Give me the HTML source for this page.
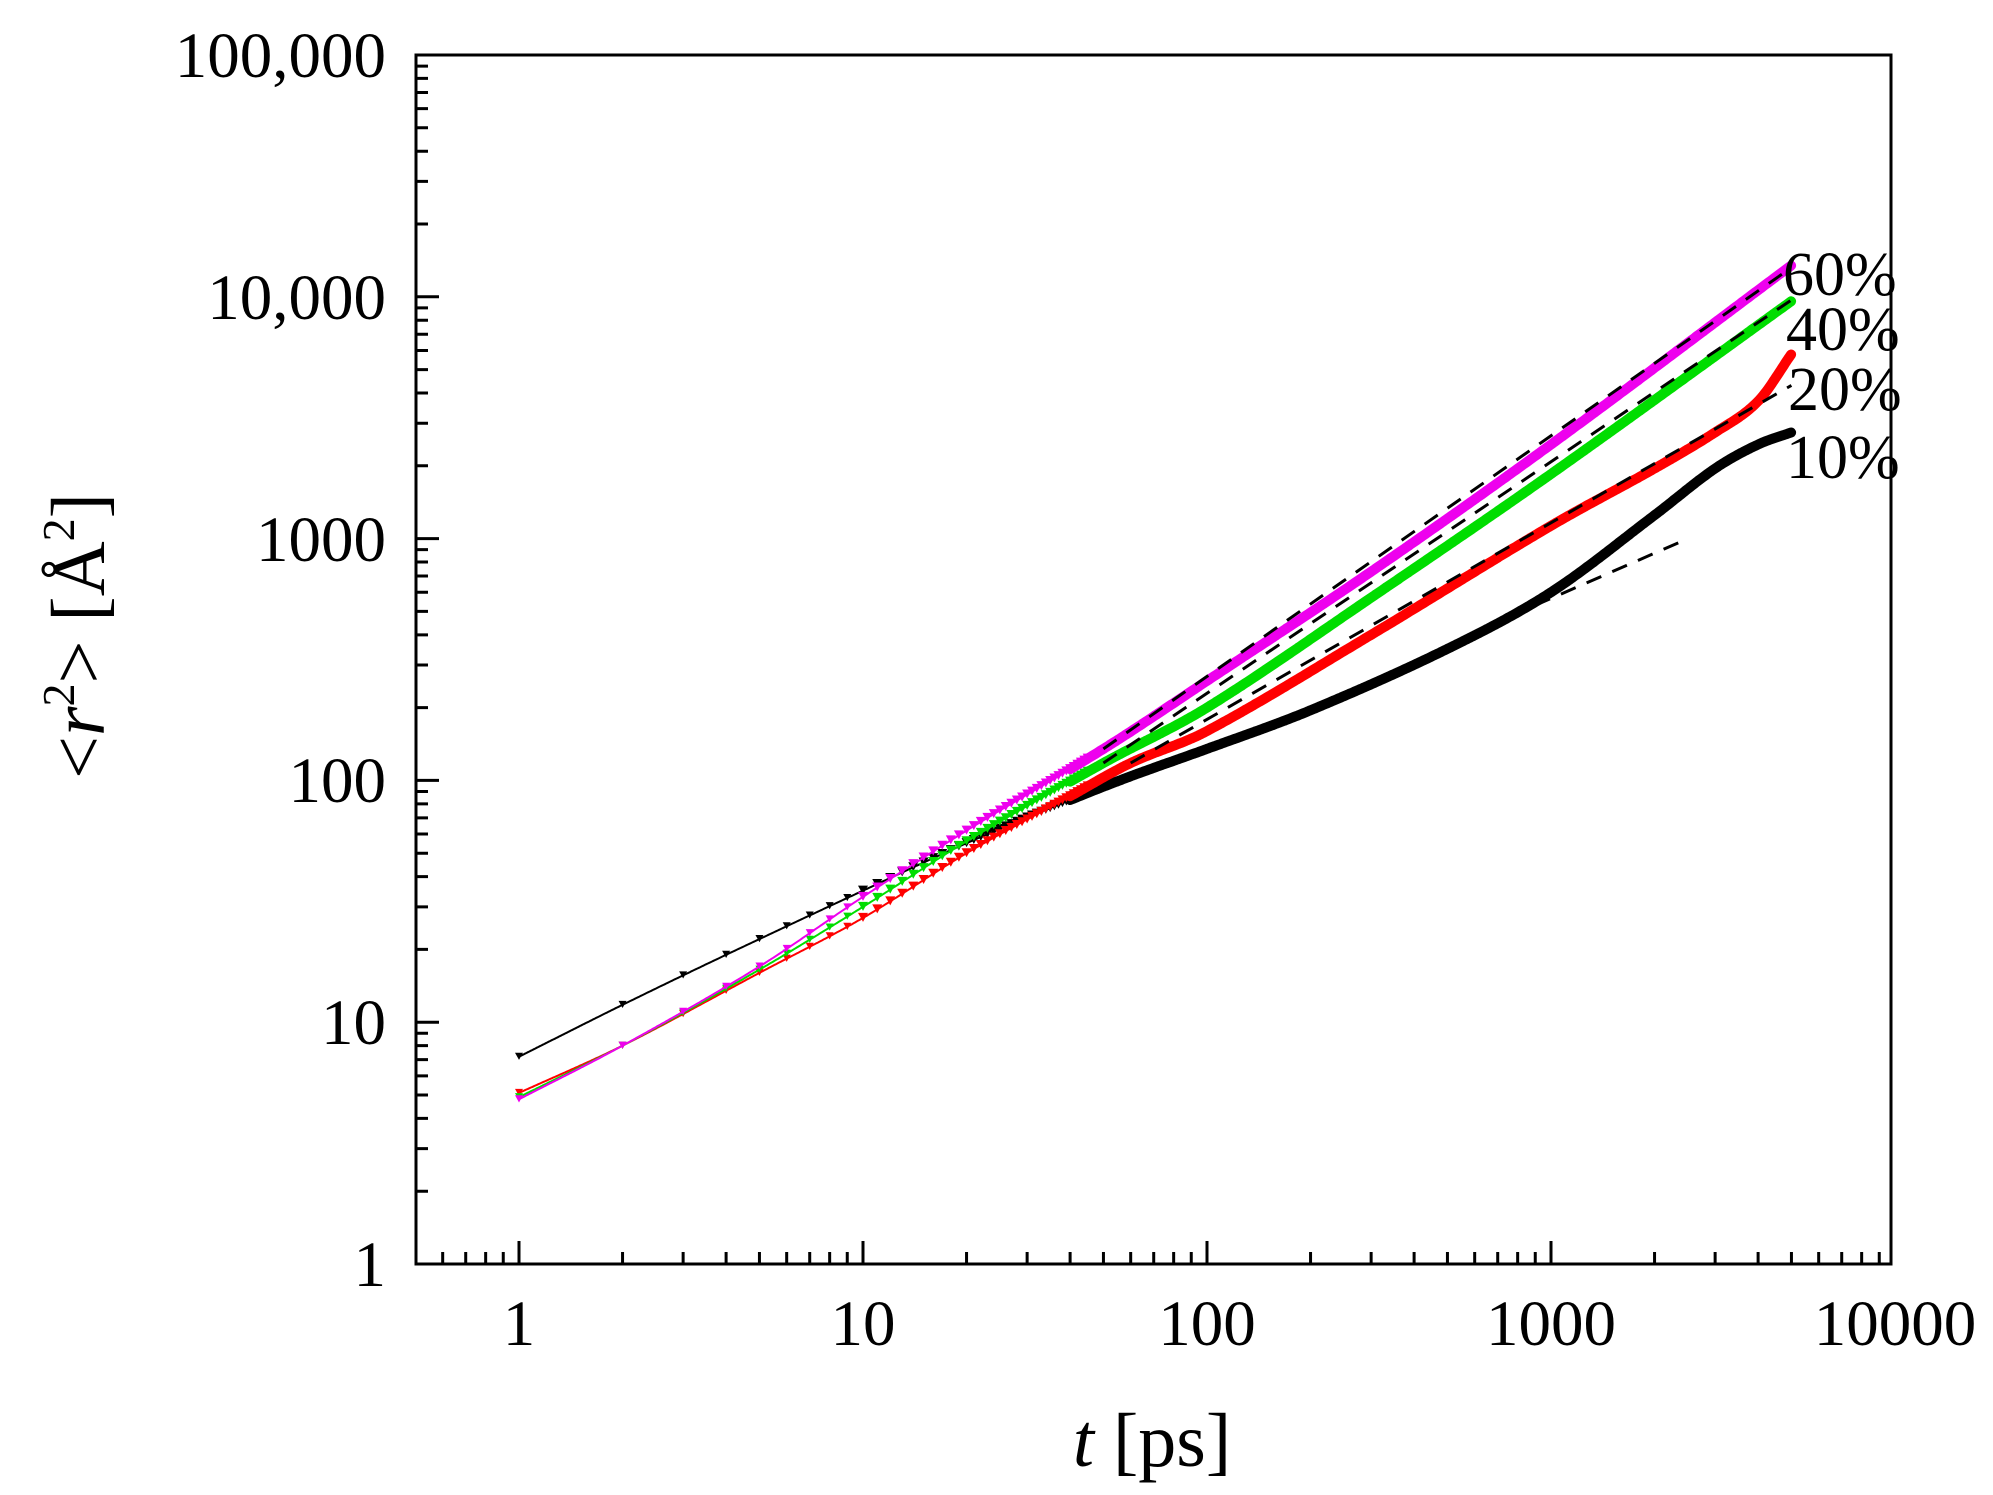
<!DOCTYPE html>
<html><head><meta charset="utf-8"><style>
html,body{margin:0;padding:0;background:#fff;}
svg{display:block;font-family:"Liberation Serif",serif;}
</style></head><body>
<svg id="s" width="1993" height="1495" viewBox="0 0 1993 1495" xmlns="http://www.w3.org/2000/svg">
<rect width="1993" height="1495" fill="#fff"/>
<g id="data"></g>
<rect x="416" y="55" width="1475" height="1209" fill="none" stroke="#000" stroke-width="3"/>
<g id="ticks" stroke="#000" stroke-width="3"></g>
<g font-size="65" fill="#000">
<text x="519" y="1345" text-anchor="middle">1</text>
<text x="863" y="1345" text-anchor="middle">10</text>
<text x="1207" y="1345" text-anchor="middle">100</text>
<text x="1551" y="1345" text-anchor="middle">1000</text>
<text x="1895" y="1345" text-anchor="middle">10000</text>
<text x="386" y="1286" text-anchor="end">1</text>
<text x="386" y="1044" text-anchor="end">10</text>
<text x="386" y="802" text-anchor="end">100</text>
<text x="386" y="561" text-anchor="end">1000</text>
<text x="386" y="319" text-anchor="end">10,000</text>
<text x="386" y="77" text-anchor="end">100,000</text>
</g>
<g font-size="62" fill="#000">
<text x="1783" y="295">60%</text>
<text x="1786" y="350">40%</text>
<text x="1788" y="410">20%</text>
<text x="1786" y="478">10%</text>
</g>
<g font-size="76" fill="#000">
<text x="1152" y="1466" text-anchor="middle"><tspan font-style="italic">t</tspan> [ps]</text>
<text transform="translate(104,636) rotate(-90)" text-anchor="middle">&lt;<tspan font-style="italic">r</tspan><tspan font-size="46" dy="-30">2</tspan><tspan dy="30">&gt; [Å</tspan><tspan font-size="46" dy="-30">2</tspan><tspan dy="30">]</tspan></text>
</g>
</svg>
<script>
var NS="http://www.w3.org/2000/svg";
function px(t){return 519+344*Math.log10(t);}
function py(v){return 1264-241.8*Math.log10(v);}
var tk=document.getElementById('ticks'),d="";
for(var e=-1;e<4;e++)for(var m=1;m<10;m++){var t=m*Math.pow(10,e);var x=px(t);if(x<417||x>1890)continue;var L=(m==1)?23:12;d+="M"+x+" 1264v-"+L;}
for(var e=0;e<5;e++)for(var m=1;m<10;m++){var v=m*Math.pow(10,e);var y=py(v);var L=(m==1)?23:12;d+="M416 "+y+"h"+L;}
var p=document.createElementNS(NS,'path');p.setAttribute('d',d);tk.appendChild(p);
// catmull-rom in log space
function interp(a,t){var lt=Math.log10(t);var X=a.map(function(q){return Math.log10(q[0]);}),Y=a.map(function(q){return Math.log10(q[1]);});
 var n=X.length,i=0;while(i<n-2&&lt>X[i+1])i++;
 var x0=X[i],x1=X[i+1],y0=Y[i],y1=Y[i+1];
 function slope(k){if(k<=0)return (Y[1]-Y[0])/(X[1]-X[0]);if(k>=n-1)return (Y[n-1]-Y[n-2])/(X[n-1]-X[n-2]);return (Y[k+1]-Y[k-1])/(X[k+1]-X[k-1]);}
 var h=x1-x0,s=(lt-x0)/h,m0=slope(i)*h,m1=slope(i+1)*h;
 var s2=s*s,s3=s2*s;
 var y=(2*s3-3*s2+1)*y0+(s3-2*s2+s)*m0+(-2*s3+3*s2)*y1+(s3-s2)*m1;
 return Math.pow(10,y);}
var S=[
{c:"#000",a:[[1,7.2],[2,11.8],[4,19],[10,35],[20,55],[40,83],[60,104],[100,135],[200,195],[500,350],[1000,600],[2000,1250],[3000,1950],[4000,2450],[5000,2750]]},
{c:"#ff0000",a:[[1,5.1],[2,8],[5,16],[10,27],[20,50],[40,86],[60,118],[100,160],[300,400],[1000,1130],[2000,1950],[3000,2750],[4000,3700],[5000,5800]]},
{c:"#00dd00",a:[[1,4.9],[2,8],[5,16.5],[10,30],[20,56],[50,118],[100,200],[300,570],[1000,1850],[5000,9600]]},
{c:"#ee00ee",a:[[1,4.8],[2,8],[5,17],[10,33],[20,62],[50,135],[100,258],[300,730],[1000,2450],[5000,13500]]}];
var g=document.getElementById('data');
function path(pts,attrs){var p=document.createElementNS(NS,'path');p.setAttribute('d',"M"+pts.map(function(q){return q[0].toFixed(1)+" "+q[1].toFixed(1);}).join("L"));p.setAttribute('fill','none');for(var k in attrs)p.setAttribute(k,attrs[k]);g.appendChild(p);}
S.forEach(function(s){
 var pts=[];for(var t=1;t<=5000;t*=1.01)pts.push([px(t),py(interp(s.a,t))]);
 path(pts,{stroke:s.c,'stroke-width':2});
 var thick=[];for(var t=40;t<=5000;t*=1.01)thick.push([px(t),py(interp(s.a,t))]);
 path(thick,{stroke:s.c,'stroke-width':10,'stroke-linecap':'round','stroke-linejoin':'round'});
 var md="";for(var t=1;t<=45;t++){var x=px(t),y=py(interp(s.a,t));var r=t<10?4:5;md+="M"+(x-r)+" "+(y-r)+"h"+(2*r)+"l-"+r+" "+(1.8*r)+"z";}
 var p=document.createElementNS(NS,'path');p.setAttribute('d',md);p.setAttribute('fill',s.c);g.appendChild(p);
});
function fit(t0,v0,t1,v1){path([[px(t0),py(v0)],[px(t1),py(v1)]],{stroke:'#000','stroke-width':3,'stroke-dasharray':'16 12'});}
fit(50,135,5000,13200);
fit(50,118,5000,9700);
fit(60,118,5000,4300);
fit(900,530,2500,1000);
</script>
</body></html>
